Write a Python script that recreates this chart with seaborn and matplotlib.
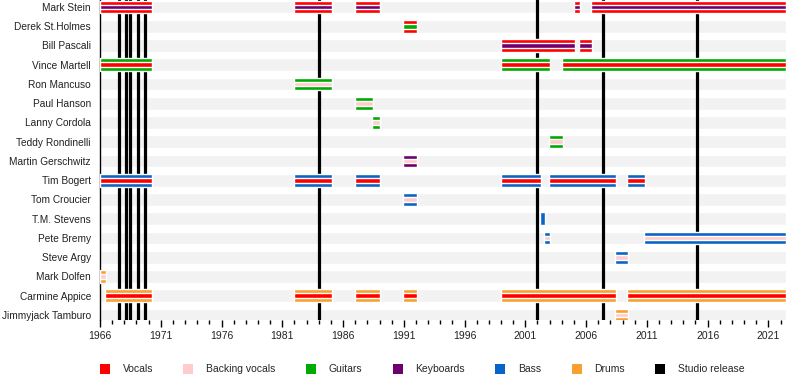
import matplotlib
matplotlib.use("Agg")
import matplotlib.pyplot as plt
from matplotlib.patches import Patch
from matplotlib.ticker import MultipleLocator
import pandas as pd
import seaborn as sns

# Band members, top to bottom
members = ["Mark Stein", "Derek St.Holmes", "Bill Pascali", "Vince Martell",
           "Ron Mancuso", "Paul Hanson", "Lanny Cordola", "Teddy Rondinelli",
           "Martin Gerschwitz", "Tim Bogert", "Tom Croucier", "T.M. Stevens",
           "Pete Bremy", "Steve Argy", "Mark Dolfen", "Carmine Appice",
           "Jimmyjack Tamburo"]

# Periods: member, start, end, main role, second role
bar_member = ["Mark Stein", "Mark Stein", "Mark Stein", "Mark Stein", "Mark Stein",
              "Derek St.Holmes",
              "Bill Pascali", "Bill Pascali",
              "Vince Martell", "Vince Martell", "Vince Martell",
              "Ron Mancuso", "Paul Hanson", "Lanny Cordola", "Teddy Rondinelli",
              "Martin Gerschwitz",
              "Tim Bogert", "Tim Bogert", "Tim Bogert", "Tim Bogert", "Tim Bogert", "Tim Bogert",
              "Tom Croucier", "T.M. Stevens", "Pete Bremy", "Pete Bremy", "Steve Argy",
              "Mark Dolfen",
              "Carmine Appice", "Carmine Appice", "Carmine Appice", "Carmine Appice",
              "Carmine Appice", "Carmine Appice",
              "Jimmyjack Tamburo"]
bar_start = [1966.0, 1982.0, 1987.0, 2005.0, 2006.4,
             1990.95,
             1999.0, 2005.4,
             1966.0, 1999.0, 2004.0,
             1982.0, 1987.0, 1988.4, 2002.95,
             1990.95,
             1966.0, 1982.0, 1987.0, 1999.0, 2002.95, 2009.4,
             1990.95, 2002.2, 2002.55, 2010.75, 2008.4,
             1966.0,
             1966.4, 1982.0, 1987.0, 1990.95, 1999.0, 2009.4,
             2008.4]
bar_end = [1970.3, 1985.1, 1989.05, 2005.5, 2022.45,
           1992.1,
           2005.1, 2006.5,
           1970.3, 2003.0, 2022.45,
           1985.1, 1988.5, 1989.05, 2004.1,
           1992.1,
           1970.3, 1985.1, 1989.05, 2002.3, 2008.5, 2010.85,
           1992.1, 2002.6, 2003.0, 2022.45, 2009.45,
           1966.5,
           1970.3, 1985.1, 1989.05, 1992.1, 2008.5, 2022.45,
           2009.45]
bar_main = ["Vocals"] * 5 + ["Vocals"] + ["Vocals"] * 2 + ["Guitars"] * 3 + \
           ["Guitars"] * 4 + ["Keyboards"] + ["Bass"] * 6 + ["Bass"] * 5 + \
           ["Drums"] + ["Drums"] * 6 + ["Drums"]
bar_extra = ["Keyboards"] * 5 + ["Guitars"] + ["Keyboards"] * 2 + ["Vocals"] * 3 + \
            ["Backing vocals"] * 4 + ["Backing vocals"] + ["Vocals"] * 6 + \
            ["Backing vocals", None, "Backing vocals", "Backing vocals", "Backing vocals"] + \
            ["Backing vocals"] + ["Vocals"] * 6 + ["Backing vocals"]

# Studio album releases
releases = [1967.6, 1968.1, 1968.45, 1969.1, 1969.7, 1984.0, 2002.0, 2007.42, 2015.15]

roles = ["Vocals", "Backing vocals", "Guitars", "Keyboards", "Bass", "Drums", "Studio release"]
colors = {"Vocals": "#ff0000", "Backing vocals": "#ffcccc", "Guitars": "#00aa00",
          "Keyboards": "#6e006e", "Bass": "#0a64c8", "Drums": "#f8a030",
          "Studio release": "#000000"}

bars = pd.DataFrame({"member": bar_member, "start": bar_start, "end": bar_end,
                     "main": bar_main, "extra": bar_extra})
bars["row"] = bars["member"].map({m: i for i, m in enumerate(members)})

sns.set_theme(style="ticks")
plt.rcParams["font.family"] = ["Liberation Sans", "DejaVu Sans"]

x_min, x_max = 1966.0, 2022.45

fig = plt.figure(figsize=(8, 3.8), dpi=100)
ax = fig.add_axes([0.125, 0.158, 0.8575, 0.842])

# grey row backgrounds
ax.barh(range(len(members)), x_max - x_min, left=x_min, height=0.66,
        color="#f2f2f2", zorder=1)

for yr in releases:
    ax.axvline(yr, color="black", lw=2.3, zorder=2)

ax.barh(bars["row"], bars["end"] - bars["start"], left=bars["start"], height=0.66,
        color=bars["main"].map(colors), zorder=3)
inner = bars.dropna(subset=["extra"])
ax.barh(inner["row"], inner["end"] - inner["start"], left=inner["start"], height=0.25,
        color=inner["extra"].map(colors), zorder=4)

ax.set_xlim(x_min, x_max)
ax.set_ylim(16.26, -0.36)
ax.set_yticks(range(len(members)))
ax.set_yticklabels(members)
ax.xaxis.set_minor_locator(MultipleLocator(1))
ax.set_xticks(range(1966, 2023, 5))
ax.tick_params(axis="y", length=0, pad=6.5, labelsize=7.3, labelcolor="#222222")
ax.tick_params(axis="x", which="major", length=5, width=1, color="black",
               pad=3, labelsize=7.5, labelcolor="#222222", bottom=True)
ax.tick_params(axis="x", which="minor", length=3, width=1, color="black", bottom=True)

for s in ["top", "right", "bottom"]:
    ax.spines[s].set_visible(False)
ax.spines["left"].set_color("black")
ax.spines["left"].set_linewidth(1)

handles = [Patch(facecolor=colors[r], edgecolor="none") for r in roles]
fig.legend(handles, roles, loc="center", bbox_to_anchor=(0.528, 0.029), ncol=7,
           frameon=False, fontsize=7.5, handlelength=0.95, handleheight=1.15,
           handletextpad=1.25, columnspacing=2.9)

fig.savefig("out.png", dpi=100)
